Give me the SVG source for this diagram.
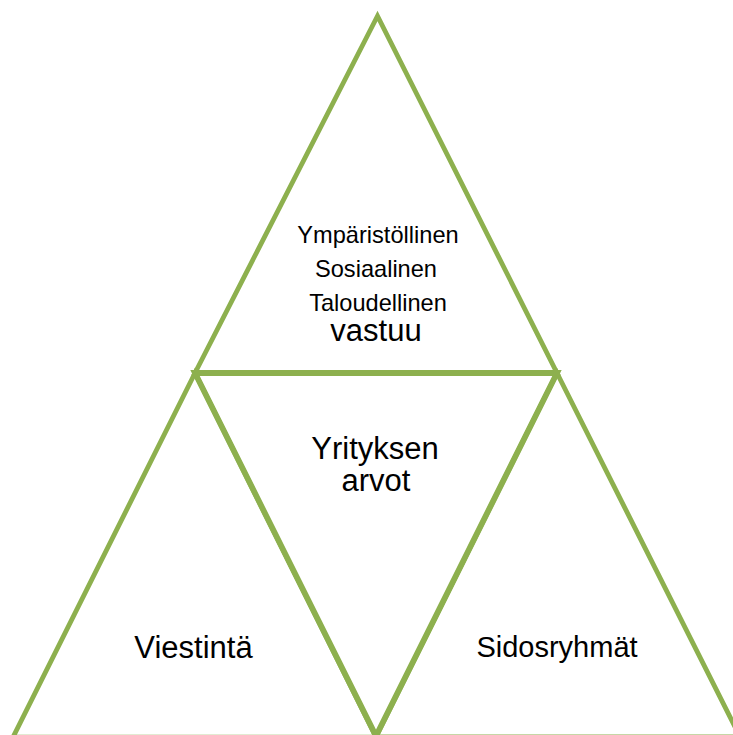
<svg xmlns="http://www.w3.org/2000/svg" width="733" height="735" viewBox="0 0 733 735">
<style>
.tri{fill:none;stroke:#8db04e;stroke-width:4.8;stroke-linejoin:miter}
.mid{fill:none;stroke:#8db04e;stroke-width:5.8;stroke-linejoin:miter}
text{font-family:"Liberation Sans",Arial,sans-serif;fill:#000;text-anchor:middle}
.s{font-size:23.6px}
.l{font-size:31px}
</style>
<rect width="733" height="735" fill="#fff"/>
<g id="left">
<polygon class="tri" points="195,373 13,737.2 376,737.2"/>
<text class="l" x="193.5" y="658">Viestintä</text>
</g>
<g id="right">
<polygon class="tri" points="557,373 376,736.8 740,736.8"/>
<text class="l" x="557" y="656.5" style="font-size:29px">Sidosryhmät</text>
</g>
<g id="middle">
<polygon class="mid" points="195,373 557,373 376,736"/>
<text class="l" x="375" y="459">Yrityksen</text>
<text class="l" x="376" y="491">arvot</text>
</g>
<g id="top">
<polygon class="tri" points="377.5,16 195,373 557,373"/>
<text class="s" x="378" y="243">Ympäristöllinen</text>
<text class="s" x="376" y="277">Sosiaalinen</text>
<text class="s" x="378" y="311">Taloudellinen</text>
<text class="l" x="376" y="341">vastuu</text>
</g>
</svg>
